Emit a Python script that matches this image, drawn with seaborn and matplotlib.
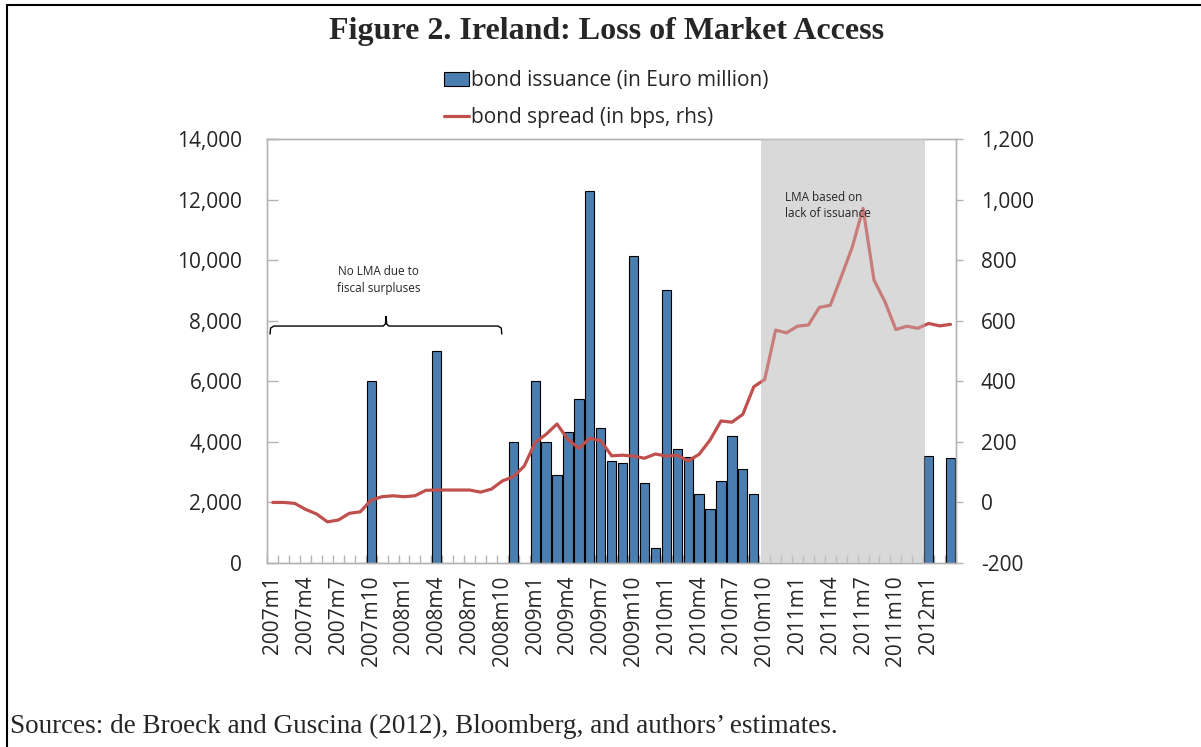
import numpy as np
import pandas as pd
import matplotlib
matplotlib.use('Agg')
import matplotlib.pyplot as plt
import seaborn as sns
from matplotlib.patches import Patch
from matplotlib.lines import Line2D
from matplotlib.ticker import FuncFormatter

# monthly categories 2007m1 .. 2012m3
months = [f"{y}m{m}" for y in range(2007, 2013) for m in range(1, 13)][:63]

# bond issuance (Euro million), only months with an issue
issue_months = ['2007m10', '2008m4', '2008m11', '2009m1', '2009m2', '2009m3',
                '2009m4', '2009m5', '2009m6', '2009m7', '2009m8', '2009m9',
                '2009m10', '2009m11', '2009m12', '2010m1', '2010m2', '2010m3',
                '2010m4', '2010m5', '2010m6', '2010m7', '2010m8', '2010m9',
                '2012m1', '2012m3']
issue_values = [6000, 7000, 4000, 6000, 4000, 2900,
                4330, 5400, 12300, 4450, 3370, 3290,
                10150, 2650, 500, 9000, 3750, 3500,
                2280, 1780, 2700, 4200, 3100, 2280,
                3530, 3470]

# bond spread (bps, rhs)
spread = [0, 0, -3, -23, -38, -64, -58, -36, -31, 8,
          19, 22, 19, 22, 40, 41, 41, 41, 41, 34,
          44, 71, 85, 120, 198, 225, 259, 208, 179, 212,
          204, 154, 156, 153, 146, 160, 153, 156, 137, 159,
          206, 269, 265, 291, 382, 406, 569, 560, 582, 586,
          644, 651, 745, 842, 971, 734, 663, 571, 582, 575,
          591, 583, 588]

lma_start, lma_end = '2010m10', '2011m12'

bar_col = '#4A7EB0'
line_col = '#C0504D'
shade_col = '#D9D9D9'
spine_col = '#B3B3B3'
tick_fs = 15

df = pd.DataFrame({'month': months, 'spread': spread})
df['issuance'] = df['month'].map(dict(zip(issue_months, issue_values)))
df['pos'] = np.arange(len(df))

sns.set_style('white')
plt.rcParams['font.family'] = ['Open Sans', 'DejaVu Sans']

fig = plt.figure(figsize=(12.01, 7.47), dpi=100)
ax = fig.add_axes([0.2226, 0.2463, 0.796 - 0.2226, 0.8139 - 0.2463])

i0 = months.index(lma_start)
i1 = months.index(lma_end)
ax.axvspan(i0 - 0.35, i1 + 0.7, color=shade_col, lw=0, zorder=0)

bars = df.dropna(subset=['issuance'])
sns.barplot(data=bars, x='pos', y='issuance', native_scale=True, color=bar_col,
            saturation=1, edgecolor='black', linewidth=0.8, width=0.85, ax=ax, zorder=2)

ax.set_xlim(-0.5, len(months) - 0.5)
ax.set_ylim(0, 14000)
ax.set_yticks(range(0, 14001, 2000))
ax.yaxis.set_major_formatter(FuncFormatter(lambda v, p: f"{v:,.0f}"))
ax.set_xticks(range(0, len(months), 3))
ax.set_xticklabels(months[::3], rotation=90)
ax.set_xticks(np.arange(-0.5, len(months), 1), minor=True)
ax.tick_params(axis='x', which='major', bottom=True, length=0, pad=9, labelsize=tick_fs)
ax.tick_params(axis='x', which='minor', bottom=True, direction='in', length=6,
               color=spine_col, width=1)
ax.tick_params(axis='y', left=True, direction='in', length=8, color=spine_col, width=1,
               pad=18, labelsize=tick_fs)
ax.set_xlabel('')
ax.set_ylabel('')

ax2 = ax.twinx()
sns.lineplot(data=df, x='pos', y='spread', color=line_col, lw=2.3, ax=ax2, zorder=3)
ax2.axvspan(i0 - 0.35, i1 + 0.7, color=shade_col, alpha=0.33, lw=0, zorder=4)
ax2.set_ylim(-200, 1200)
ax2.set_yticks(range(-200, 1201, 200))
ax2.yaxis.set_major_formatter(FuncFormatter(lambda v, p: f"{v:,.0f}"))
ax2.tick_params(axis='y', right=True, direction='out', length=5, color=spine_col, width=1,
                pad=13, labelsize=tick_fs)
ax2.set_xlim(-0.5, len(months) - 0.5)
ax2.set_xlabel('')
ax2.set_ylabel('')

for a in (ax, ax2):
    for s in a.spines.values():
        s.set_color(spine_col)
        s.set_linewidth(1)

# annotations
bx = [-0.25, -0.2, 0.1, 10.1, 10.3, 10.36, 10.42, 10.62, 20.6, 20.9, 20.95]
by = [7560, 7760, 7825, 7825, 7890, 8140, 7890, 7825, 7825, 7760, 7560]
ax.plot(bx, by, color='black', lw=1, zorder=5)
ax.text(9.7, 9350, 'No LMA due to\nfiscal surpluses', ha='center', va='center',
        fontsize=8.5, linespacing=1.35, zorder=5)
ax2.text(i0 + 1.85, 980, 'LMA based on\nlack of issuance', ha='left', va='center',
         fontsize=8.5, linespacing=1.35, zorder=6)

handles = [Patch(facecolor=bar_col, edgecolor='black', linewidth=0.8),
           Line2D([0], [0], color=line_col, lw=2.3)]
fig.legend(handles, ['bond issuance (in Euro million)', 'bond spread (in bps, rhs)'],
           loc='upper center', bbox_to_anchor=(0.505, 1 - 62 / 747), frameon=False,
           fontsize=15, handlelength=1.2, handletextpad=0.1, labelspacing=0.75,
           borderaxespad=0)

fig.text(0.505, 1 - 32 / 747, 'Figure 2. Ireland: Loss of Market Access', ha='center', va='center',
         fontsize=23, fontweight='bold', family='Liberation Serif')
fig.text(10 / 1201, 1 - 726 / 747,
         "Sources: de Broeck and Guscina (2012), Bloomberg, and authors\u2019 estimates.",
         ha='left', va='center', fontsize=19.5, family='Liberation Serif')

# frame lines of the figure box
fig.add_artist(Line2D([6.5 / 1201, 6.5 / 1201], [0, 1 - 5 / 747], color='black', lw=1.5))
fig.add_artist(Line2D([6.5 / 1201, 1], [1 - 5 / 747, 1 - 5 / 747], color='black', lw=1.5))

fig.savefig('out.png', dpi=100)
